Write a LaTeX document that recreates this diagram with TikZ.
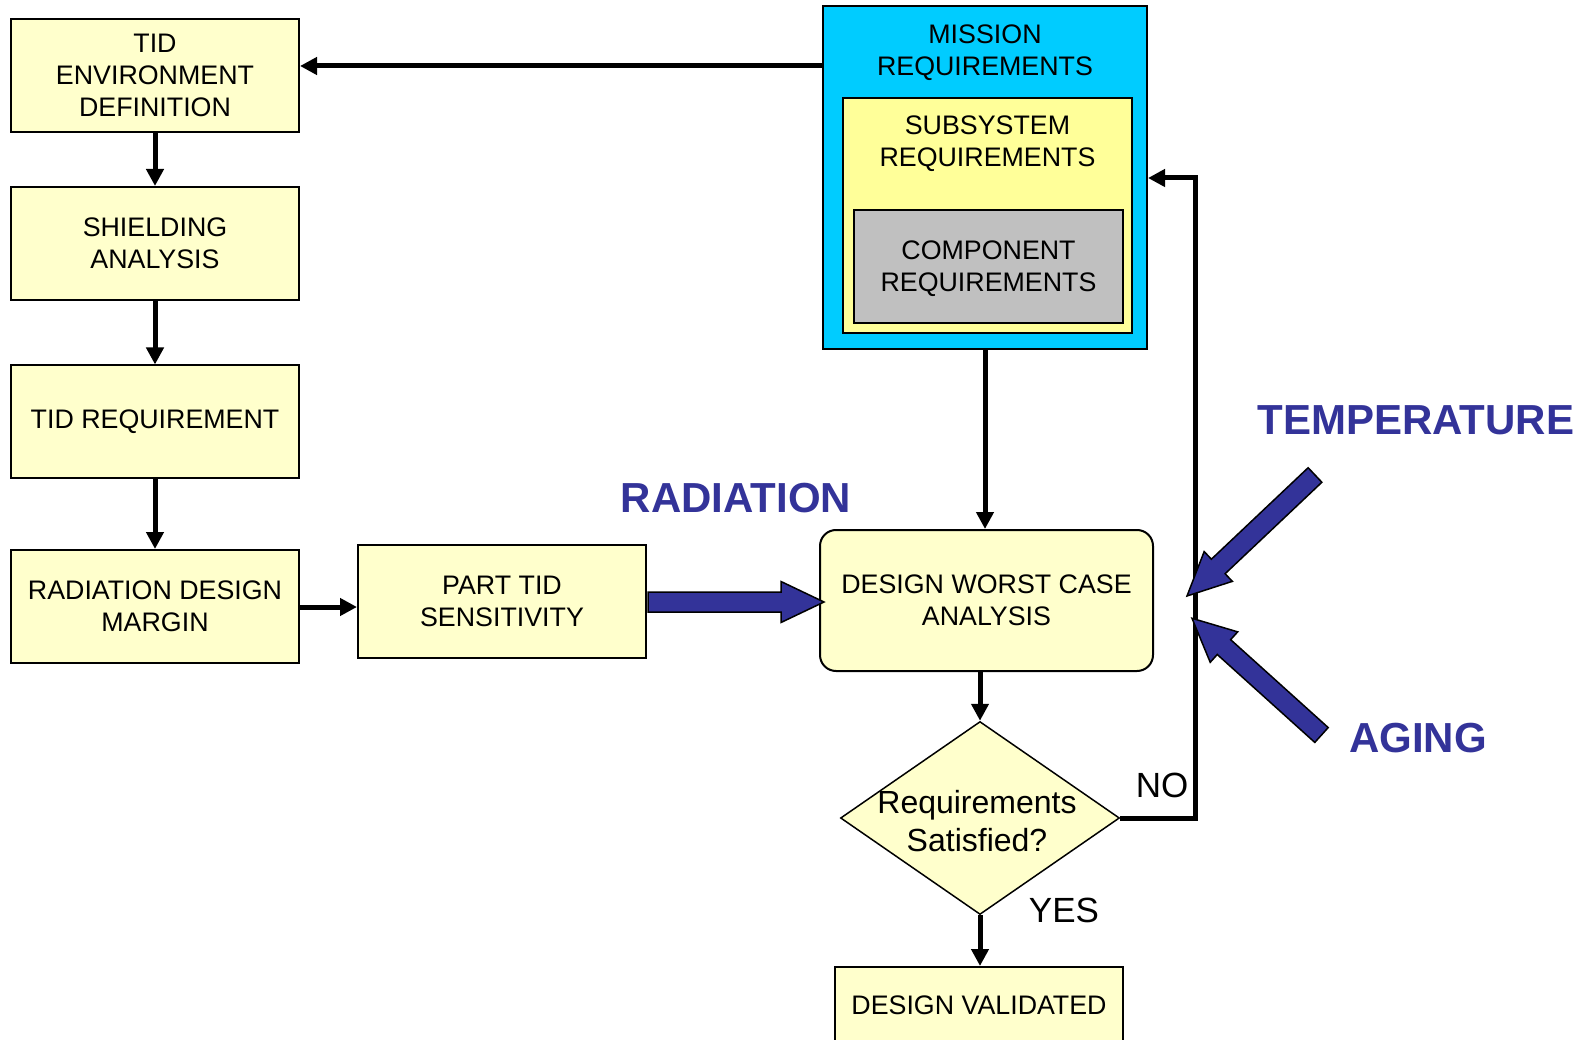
\documentclass[tikz,border=0pt]{standalone}
\usepackage{fontspec}
\setmainfont{Liberation Sans}
\usetikzlibrary{arrows.meta,shapes.geometric,calc}
\definecolor{boxyellow}{HTML}{FFFFCC}
\definecolor{subyellow}{HTML}{FFFF99}
\definecolor{missionblue}{HTML}{00CCFF}
\definecolor{compgray}{HTML}{C0C0C0}
\definecolor{arrowblue}{HTML}{333399}
\newcommand\blockarr[2]{%
  \coordinate (bh) at ($(#2)!43pt!(#1)$);
  \draw[line width=1.5pt, fill=arrowblue, line join=miter]
    ($(#1)!10pt!90:(#2)$) -- ($(bh)!10pt!90:(#2)$) -- ($(bh)!20.5pt!90:(#2)$) -- (#2)
    -- ($(bh)!20.5pt!-90:(#2)$) -- ($(bh)!10pt!-90:(#2)$) -- ($(#1)!10pt!-90:(#2)$) -- cycle;
}
\begin{document}
\begin{tikzpicture}[x=1pt,y=-1pt,
  boxtext/.style={font=\fontsize{26.8}{32}\selectfont, align=center},
  flowbox/.style={boxtext, draw=black, line width=2pt, fill=boxyellow, minimum width=288pt, minimum height=113pt, inner sep=0pt},
  conn/.style={line width=5pt, -{Triangle[length=17pt,width=17pt]}},
  bigtxt/.style={font=\fontsize{42}{50}\selectfont\bfseries, text=arrowblue, inner sep=0pt},
  answer/.style={font=\fontsize{35}{40}\selectfont, inner sep=0pt}
]
\useasboundingbox (0,0) rectangle (1591,1040);

% left column
\node[flowbox] (tidenv) at (155,75.5) {TID\\ENVIRONMENT\\DEFINITION};
\node[flowbox] (shield) at (155,243.5) {SHIELDING\\ANALYSIS};
\node[flowbox] (tidreq) at (155,422) {TID REQUIREMENT};
\node[flowbox] (rdm) at (155,606.5) {RADIATION DESIGN\\MARGIN};
\node[flowbox] (ptid) at (502,601.5) {PART TID\\SENSITIVITY};

% requirements stack
\node[draw=black, line width=2pt, fill=missionblue, minimum width=324pt, minimum height=343pt, inner sep=0pt] (mission) at (985,177.5) {};
\node[boxtext, inner sep=0pt] (missiontxt) at (985,52.5) {MISSION\\REQUIREMENTS};
\node[draw=black, line width=2pt, fill=subyellow, minimum width=289pt, minimum height=235pt, inner sep=0pt] (subsys) at (987.5,215.5) {};
\node[boxtext, inner sep=0pt] (subsystxt) at (987.5,143.5) {SUBSYSTEM\\REQUIREMENTS};
\node[draw=black, line width=2pt, fill=compgray, minimum width=269pt, minimum height=113pt, inner sep=0pt] (comp) at (988.5,266.5) {};
\node[boxtext, inner sep=0pt] (comptxt) at (988.5,269) {COMPONENT\\REQUIREMENTS};

% analysis and decision
\node[boxtext, draw=black, line width=2pt, fill=boxyellow, rounded corners=16pt, minimum width=333pt, minimum height=141pt, inner sep=0pt] (dwca) at (986.5,600.5) {DESIGN WORST CASE\\ANALYSIS};
\node[diamond, draw=black, line width=1.5pt, fill=boxyellow, minimum width=279pt, minimum height=193pt, aspect=1.45, inner sep=0pt] (dec) at (980,818) {};
\node[font=\fontsize{32}{38.5}\selectfont, align=center, inner sep=0pt] (dectxt) at (977,821) {Requirements\\Satisfied?};
\node[flowbox, minimum height=76pt] (valid) at (979,1005) {DESIGN VALIDATED};

% connectors
\draw[conn] (mission.west |- 0,66) -- (tidenv.east |- 0,66);
\draw[conn] (tidenv.south) -- (shield.north);
\draw[conn] (shield.south) -- (tidreq.north);
\draw[conn] (tidreq.south) -- (rdm.north);
\draw[conn] (rdm.east |- 0,607) -- (ptid.west |- 0,607);
\draw[conn] (mission.south) -- (mission.south |- dwca.north);
\draw[conn] (dec.north |- dwca.south) -- (dec.north);
\draw[conn] (dec.south) -- (dec.south |- valid.north);
\coordinate (loopc) at (1195,178);
\draw[conn] (dec.east) -| (loopc) -- (mission.east |- loopc);

% labels
\node[answer] (notxt) at (1162,785) {NO};
\node[answer] (yestxt) at (1064,910) {YES};
\node[bigtxt] (radtxt) at (736,498) {RADIATION};
\node[bigtxt] (temptxt) at (1416,420) {TEMPERATURE};
\node[bigtxt] (agetxt) at (1418,738) {AGING};

% block arrows
\coordinate (radA) at (648,602);
\coordinate (radB) at (824,602);
\blockarr{radA}{radB}
\coordinate (tempA) at (1315,475);
\coordinate (tempB) at (1187,596);
\blockarr{tempA}{tempB}
\coordinate (ageA) at (1321.5,735);
\coordinate (ageB) at (1192,618.3);
\blockarr{ageA}{ageB}
\end{tikzpicture}
\end{document}
